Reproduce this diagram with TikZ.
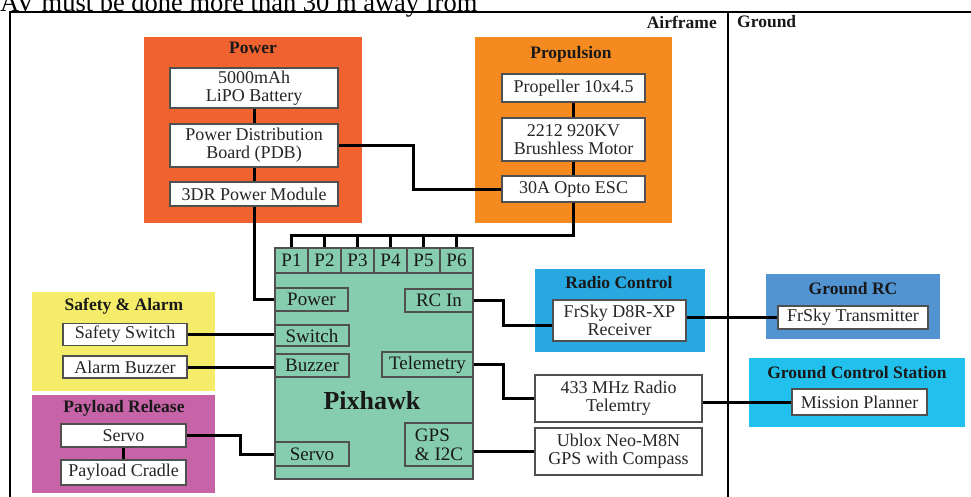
\documentclass[tikz,border=0pt]{standalone}
\usepackage{fontspec}
\setmainfont{Liberation Serif}
\definecolor{cPower}{RGB}{240,98,48}
\definecolor{cProp}{RGB}{245,139,32}
\definecolor{cSafe}{RGB}{245,237,105}
\definecolor{cPay}{RGB}{199,100,168}
\definecolor{cRC}{RGB}{39,168,224}
\definecolor{cGRC}{RGB}{82,148,210}
\definecolor{cGCS}{RGB}{34,192,236}
\definecolor{cPix}{RGB}{134,204,174}
\definecolor{cEdge}{RGB}{80,80,80}
\tikzset{
  grp/.style={fill=#1, draw=none, inner sep=0},
  wbox/.style={draw=cEdge, fill=white, line width=1.3pt, inner sep=0, align=center, text=black!85, font=\fontsize{18}{18}\selectfont},
  port/.style={draw=cEdge, fill=cPix, line width=1.3pt, inner sep=0, align=center, text=black!90, font=\fontsize{19}{19}\selectfont},
  ttl/.style={inner sep=0, text=black!90, font=\bfseries\fontsize{17.5}{17.5}\selectfont},
  wire/.style={line width=3pt, black},
  frame/.style={line width=1.3pt, black}
}
\begin{document}
\begin{tikzpicture}[x=1pt, y=-1pt]
\useasboundingbox (0,0) rectangle (971,496);
\clip (0,0) rectangle (971,496);
% caption fragment
\node[anchor=base west, inner sep=0, font=\fontsize{26.5}{26.5}\selectfont] (cap) at (0,11) {AV must be done more than 30 m away from};
% frame
\coordinate (fTL) at (10,12);
\coordinate (fBL) at (10,500);
\coordinate (fTR) at (975,12);
\coordinate (dT) at (728,12);
\coordinate (dB) at (728,500);
\draw[frame] (fBL) -- (fTL) -- (fTR);
\draw[frame] (dT) -- (dB);
\node[ttl, anchor=east] (air) at (717,22) {Airframe};
\node[ttl, anchor=west] (gnd) at (737,22) {Ground};
% groups
\node[grp=cPower, minimum width=218, minimum height=186] (pwrG) at (253,130) {};
\node[grp=cProp, minimum width=197, minimum height=186] (propG) at (573.5,130) {};
\node[grp=cSafe, minimum width=183, minimum height=99] (safG) at (123.5,341.5) {};
\node[grp=cPay, minimum width=183, minimum height=98] (payG) at (123.5,444) {};
\node[grp=cRC, minimum width=170, minimum height=83] (rcG) at (620,310.5) {};
\node[grp=cGRC, minimum width=174, minimum height=65] (grcG) at (853,306.5) {};
\node[grp=cGCS, minimum width=216, minimum height=69] (gcsG) at (857,392.5) {};
\node[draw=cEdge, fill=cPix, line width=1.3pt, minimum width=198, minimum height=231, inner sep=0] (pix) at (374,363.5) {};
% titles
\node[ttl] (tPow) at (253,48) {Power};
\node[ttl] (tProp) at (571,54) {Propulsion};
\node[ttl] (tSaf) at (124,306) {Safety \& Alarm};
\node[ttl] (tPay) at (124,408) {Payload Release};
\node[ttl] (tRC) at (619,283) {Radio Control};
\node[ttl] (tGRC) at (853,289) {Ground RC};
\node[ttl] (tGCS) at (857,373) {Ground Control Station};
\node[inner sep=0, text=black!90, font=\bfseries\fontsize{26}{26}\selectfont] (tPix) at (372,401) {Pixhawk};
% white boxes
\node[wbox, minimum width=168, minimum height=40] (bat) at (254,88) {5000mAh\\LiPO Battery};
\node[wbox, minimum width=168, minimum height=43] (pdb) at (254,145.5) {Power Distribution\\Board (PDB)};
\node[wbox, minimum width=168, minimum height=24] (pm) at (254,194) {3DR Power Module};
\node[wbox, minimum width=143, minimum height=28] (prop) at (573.5,88) {Propeller 10x4.5};
\node[wbox, minimum width=143, minimum height=43] (mot) at (573.5,139.5) {2212 920KV\\Brushless Motor};
\node[wbox, minimum width=143, minimum height=26] (esc) at (573.5,189) {30A Opto ESC};
\node[wbox, minimum width=124, minimum height=22] (sw) at (125,334.5) {Safety Switch};
\node[wbox, minimum width=124, minimum height=22] (buz) at (125,367) {Alarm Buzzer};
\node[wbox, minimum width=125, minimum height=23] (servo) at (123.5,435.5) {Servo};
\node[wbox, minimum width=125, minimum height=25] (cradle) at (123.5,472.5) {Payload Cradle};
\node[wbox, minimum width=133, minimum height=41] (rx) at (619.5,320.5) {FrSky D8R-XP\\Receiver};
\node[wbox, minimum width=150, minimum height=23] (tx) at (853,317.5) {FrSky Transmitter};
\node[wbox, minimum width=167, minimum height=47] (tel) at (618.5,398.5) {433 MHz Radio\\Telemtry};
\node[wbox, minimum width=167, minimum height=47] (gps) at (618.5,451.5) {Ublox Neo-M8N\\GPS with Compass};
\node[wbox, minimum width=135, minimum height=26] (mp) at (859.5,402) {Mission Planner};
% pixhawk ports
\node[port, minimum width=33, minimum height=25] (p1) at (291.5,260.5) {P1};
\node[port, minimum width=33, minimum height=25] (p2) at (324.5,260.5) {P2};
\node[port, minimum width=33, minimum height=25] (p3) at (357.5,260.5) {P3};
\node[port, minimum width=33, minimum height=25] (p4) at (390.5,260.5) {P4};
\node[port, minimum width=33, minimum height=25] (p5) at (423.5,260.5) {P5};
\node[port, minimum width=33, minimum height=25] (p6) at (456.5,260.5) {P6};
\node[port, minimum width=73, minimum height=23] (pPow) at (311.5,299.5) {Power};
\node[port, minimum width=68, minimum height=23] (pRC) at (439,300.5) {RC In};
\node[port, minimum width=74, minimum height=21] (pSw) at (312,335.5) {Switch};
\node[port, minimum width=74, minimum height=23] (pBuz) at (312,365.5) {Buzzer};
\node[port, minimum width=91, minimum height=25] (pTel) at (427.5,364.5) {Telemetry};
\node[port, minimum width=68, minimum height=43, align=left] (pGps) at (439,444.5) {GPS\\\& I2C};
\node[port, minimum width=74, minimum height=24] (pSrv) at (312,454) {Servo};
% wires
\draw[wire] (bat.south) -- (pdb.north);
\draw[wire] (pdb.south) -- (pm.north);
\draw[wire] (pdb.east) -- ++(75,0) |- (esc.west);
\draw[wire] (prop.south) -- (mot.north);
\draw[wire] (mot.south) -- (esc.north);
\draw[wire] (esc.south) -- (esc.south |- 0,235) -| (p1.north);
\foreach \p in {p2,p3,p4,p5,p6} \draw[wire] (\p.north) -- (\p.north |- 0,235);
\draw[wire] (pm.south) |- (pPow.west);
\draw[wire] (sw.east) -- (sw.east -| pSw.west);
\draw[wire] (buz.east) -- (buz.east -| pBuz.west);
\draw[wire] (servo.east) -- ++(54,0) |- (pSrv.west);
\draw[wire] (servo.south) -- (cradle.north);
\draw[wire] (pRC.east) -- ++(30,0) |- ([yshift=-4.5pt]rx.west);
\draw[wire] (tx.west -| rx.east) -- (tx.west);
\draw[wire] (pTel.east) -- ++(30,0) |- (tel.west);
\draw[wire] (mp.west -| tel.east) -- (mp.west);
\draw[wire] (gps.west -| pGps.east) -- (gps.west);
\end{tikzpicture}
\end{document}
